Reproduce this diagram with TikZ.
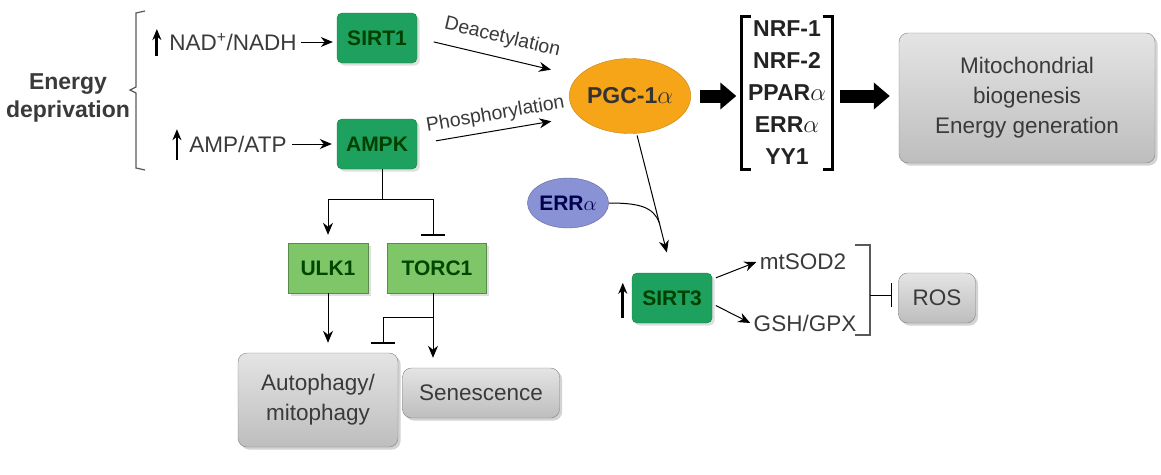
\documentclass[tikz,border=0pt]{standalone}
\usepackage{fontspec}
\setmainfont{Liberation Sans}
\usepackage{tikz}
\usetikzlibrary{arrows.meta,shadows,shapes.geometric}
\definecolor{sirtgreen}{RGB}{30,160,94}
\definecolor{ulkgreen}{RGB}{126,198,104}
\definecolor{boxgray}{RGB}{206,206,206}
\definecolor{pgcorange}{RGB}{246,164,24}
\definecolor{errblue}{RGB}{138,146,214}
\definecolor{txtgray}{RGB}{58,58,58}

\begin{document}
\begin{tikzpicture}[x=1pt,y=-1pt,
  lbl/.style={text=txtgray,font=\fontsize{22.5}{26}\selectfont},
  gbox/.style={draw=sirtgreen!80!black,fill=sirtgreen,rounded corners=5pt,minimum width=80pt,minimum height=50pt,
    drop shadow={opacity=0.25},text=black!75!green,font=\bfseries\fontsize{21}{24}\selectfont},
  lbox/.style={draw=ulkgreen!70!black,fill=ulkgreen,minimum height=50pt,drop shadow={opacity=0.25},
    text=black!72!green,font=\bfseries\fontsize{21}{24}\selectfont},
  graybox/.style={draw=gray,top color=boxgray!55!white,bottom color=boxgray!92!black,rounded corners=9pt,
    drop shadow={opacity=0.35},align=center,text=txtgray,font=\fontsize{22.5}{30}\selectfont},
  arr/.style={-{Stealth[length=12pt,width=10pt]},line width=1pt},
  uparr/.style={-{Stealth[length=11pt,width=9pt]},line width=2.8pt},
  fat/.style={-{Triangle[length=16pt,width=26pt]},line width=13pt},
  inh/.style={-{Bar[width=24pt,line width=1.5pt]},line width=1pt}]
        \useasboundingbox (0,0) rectangle (1161,474);
        \node[lbl,align=center,font=\bfseries\fontsize{23}{28}\selectfont] (energy) at (68,98) {Energy\\deprivation};
        \draw[gray!70!black,line width=1.2pt] (145,11) -- (136,13) -- (136,87) -- (130,90) -- (136,93) -- (136,168) -- (145,170);
        \node[lbl] (nad) at (233,42) {NAD\textsuperscript{+}/NADH};
        \node[lbl] (amp) at (238,144) {AMP/ATP};
        \node[gbox] (sirta) at (377,38) {SIRT1};
        \node[gbox] (ampk) at (377,144) {AMPK};
        \node[ellipse,draw=pgcorange!80!black,fill=pgcorange,minimum width=105pt,minimum height=75pt,inner sep=0pt,
          text=black!80,font=\bfseries\fontsize{23}{26}\selectfont] (pgc) at (630,96) {PGC-1$\alpha$};
        \node[align=center,minimum width=91pt,minimum height=153pt,inner sep=0pt,text=txtgray!60!black,
          font=\bfseries\fontsize{23}{32}\selectfont] (tf) at (787,93) {NRF-1\\NRF-2\\PPAR$\alpha$\\ERR$\alpha$\\YY1};
        \node[graybox,minimum width=256pt,minimum height=130pt] (mito) at (1027,98) {Mitochondrial\\biogenesis\\Energy generation};
        \node[lbox,minimum width=80pt] (ulk) at (328,268) {ULK1};
        \node[lbox,minimum width=99pt] (torc) at (437,268) {TORC1};
        \node[graybox,minimum width=160pt,minimum height=94pt] (auto) at (318,400) {Autophagy/\\mitophagy};
        \node[graybox,minimum width=157pt,minimum height=50pt] (senes) at (481,393) {Senescence};
        \node[ellipse,draw=errblue!70!black,fill=errblue,minimum width=80pt,minimum height=50pt,inner sep=0pt,
          text=black!70!blue,font=\bfseries\fontsize{21}{24}\selectfont] (err) at (568,203) {ERR$\alpha$};
        \node[gbox] (sirtc) at (672,298) {SIRT3};
        \node[lbl] (sod) at (803,262) {mtSOD2};
        \node[lbl] (gsh) at (805,323) {GSH/GPX};
        \node[graybox,minimum width=77pt,minimum height=50pt] (ros) at (937,298) {ROS};

        \draw[uparr] ([xshift=-9pt,yshift=-2pt]nad.south west) -- ([xshift=-9pt,yshift=1pt]nad.north west);
        \draw[uparr] ([xshift=-9pt,yshift=-4pt]amp.south west) -- ([xshift=-9pt,yshift=3pt]amp.north west);
        \draw[uparr] ([xshift=-9pt,yshift=5pt]sirtc.south west) -- ([xshift=-9pt,yshift=-10pt]sirtc.north west);
        \draw[arr,shorten <=1pt,shorten >=4pt] (nad) -- (sirta.west |- nad);
        \draw[arr,shorten <=2pt,shorten >=5pt] (amp) -- (ampk);
        \draw[arr,shorten <=17pt,shorten >=28pt] (sirta.east) -- node[lbl,sloped,above=7pt,font=\fontsize{19.5}{22}\selectfont] {Deacetylation} (pgc.159);
        \draw[arr,shorten <=19pt,shorten >=28pt] (ampk.east) -- node[lbl,sloped,above=3pt,font=\fontsize{19.5}{22}\selectfont] {Phosphorylation} (pgc.202);
        \draw[fat,shorten <=9pt,shorten >=5pt] (pgc.east) -- (pgc.east -| tf.west);
        \draw[fat,shorten <=7pt,shorten >=9pt] (pgc.east -| tf.east) -- (pgc.east -| mito.west);
        \draw[line width=3pt] ([xshift=10pt]tf.north west) -- (tf.north west) -- (tf.south west) -- ([xshift=10pt]tf.south west);
        \draw[line width=3pt] ([xshift=-10pt]tf.north east) -- (tf.north east) -- (tf.south east) -- ([xshift=-10pt]tf.south east);
        \draw[arr,shorten >=8pt] ([xshift=5pt]ampk.south) -- ++(0,30) -| (ulk.north);
        \draw[inh,shorten >=7pt] ([xshift=5pt]ampk.south) -- ++(0,30) -| ([xshift=-4pt]torc.north);
        \draw[arr,shorten >=10pt] (ulk.south) -- (ulk.south |- auto.north);
        \draw[arr,shorten >=10pt] ([xshift=-4pt]torc.south) -- ([xshift=-4pt]torc.south |- senes.north);
        \draw[inh,shorten >=9pt] ([shift={(-4pt,-24pt)}]torc.south) -| ([xshift=65pt]auto.north);
        \draw[arr,shorten <=2pt,shorten >=21pt] (pgc.-80) -- coordinate[pos=0.64] (join) (sirtc.north);
        \draw[line width=1pt] (err.east) .. controls +(30,0) and +(-6,-16) .. (join);
        \draw[arr,shorten <=4pt] (sirtc.25) -- (sod.west);
        \draw[arr,shorten <=4pt] (sirtc.-8) -- (gsh.west);
        \draw[gray!70!black,line width=1.2pt] (855,245) -- (870,245) -- (870,335) -- (855,335);
        \coordinate (brk) at (870,295);
        \draw[inh,shorten >=6pt] (brk) -- (ros.west |- brk);
      \end{tikzpicture}
\end{document}
